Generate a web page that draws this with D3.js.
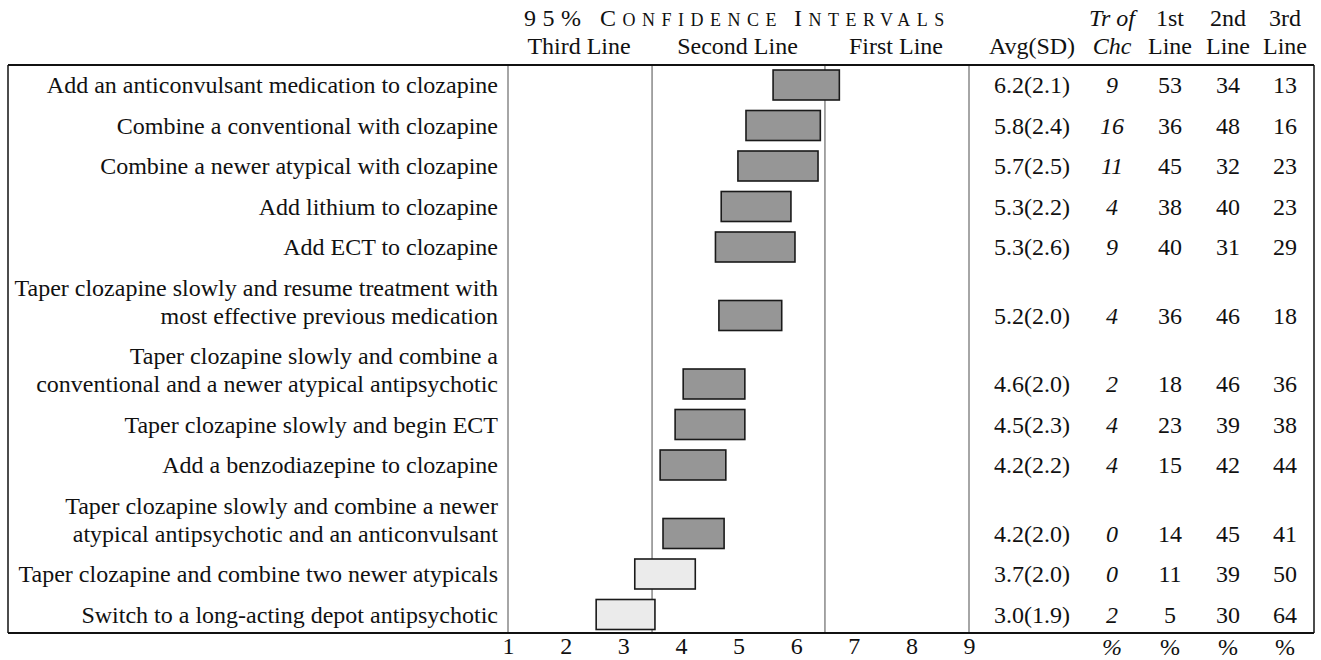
<!DOCTYPE html>
<html>
<head>
<meta charset="utf-8">
<script src="https://d3js.org/d3.v7.min.js"></script>
<style type="text/css">
  body { margin: 0; background: #fff; }
  svg text { font-family: "Liberation Serif", "Times New Roman", serif; font-size: 24px; fill: #111; }
  .grid { stroke: #888; stroke-width: 1.5; }
  .frame { stroke: #111; stroke-width: 2; }
  .it { font-style: italic; }
</style>
</head>
<body>

<svg width="1321" height="660"></svg>

<script>
// table rows, top to bottom
var labels = [
  ["Add an anticonvulsant medication to clozapine"],
  ["Combine a conventional with clozapine"],
  ["Combine a newer atypical with clozapine"],
  ["Add lithium to clozapine"],
  ["Add ECT to clozapine"],
  ["Taper clozapine slowly and resume treatment with", "most effective previous medication"],
  ["Taper clozapine slowly and combine a", "conventional and a newer atypical antipsychotic"],
  ["Taper clozapine slowly and begin ECT"],
  ["Add a benzodiazepine to clozapine"],
  ["Taper clozapine slowly and combine a newer", "atypical antipsychotic and an anticonvulsant"],
  ["Taper clozapine and combine two newer atypicals"],
  ["Switch to a long-acting depot antipsychotic"]
];
var avg   = [6.2, 5.8, 5.7, 5.3, 5.3, 5.2, 4.6, 4.5, 4.2, 4.2, 3.7, 3.0];
var sd    = [2.1, 2.4, 2.5, 2.2, 2.6, 2.0, 2.0, 2.3, 2.2, 2.0, 2.0, 1.9];
var ciLow = [5.60, 5.13, 4.99, 4.70, 4.60, 4.66, 4.04, 3.90, 3.64, 3.69, 3.20, 2.53];
var ciHigh= [6.75, 6.42, 6.38, 5.91, 5.98, 5.75, 5.11, 5.11, 4.78, 4.75, 4.25, 3.55];
var trChc = [9, 16, 11, 4, 9, 4, 2, 4, 4, 0, 0, 2];
var first = [53, 36, 45, 38, 40, 36, 18, 23, 15, 14, 11, 5];
var second= [34, 48, 32, 40, 31, 46, 46, 39, 42, 45, 39, 30];
var third = [13, 16, 23, 23, 29, 18, 36, 38, 44, 41, 50, 64];

var ticks = [1, 2, 3, 4, 5, 6, 7, 8, 9];
var zoneBreaks = [3.5, 6.5];
var zoneNames = ["Third Line", "Second Line", "First Line"];

var svg = d3.select("svg");

var box = {left: 8, right: 1314, top: 65, bottom: 633};
var x = d3.scaleLinear().domain([1, 9]).range([508, 969]);

// vertical placement: each row 40.5px, each extra text line 28px
var rowGap = 40.5, lineGap = 28, barH = 30;
var rowY = [];
var cur = 85 - rowGap;
labels.forEach(function(l) {
  cur += rowGap + (l.length - 1) * lineGap;
  rowY.push(cur);
});

// columns on the right
var cols = {avg: 1032, tr: 1112, c1: 1170, c2: 1228, c3: 1285};

// frame and grid
svg.append("line").attr("class", "frame")
  .attr("x1", box.left).attr("x2", box.right).attr("y1", box.top).attr("y2", box.top);
svg.append("line").attr("class", "frame")
  .attr("x1", box.left).attr("x2", box.right).attr("y1", box.bottom).attr("y2", box.bottom);
svg.append("line").attr("class", "frame").style("stroke-width", 1.5)
  .attr("x1", box.left).attr("x2", box.left).attr("y1", box.top).attr("y2", box.bottom);
svg.append("line").attr("class", "frame").style("stroke-width", 1.5)
  .attr("x1", box.right).attr("x2", box.right).attr("y1", box.top).attr("y2", box.bottom);

svg.selectAll(".grid")
  .data([1].concat(zoneBreaks, [9]))
  .enter().append("line")
  .attr("class", "grid")
  .attr("x1", function(d) { return x(d); })
  .attr("x2", function(d) { return x(d); })
  .attr("y1", box.top + 1)
  .attr("y2", box.bottom - 1);

// bars
svg.append("g").selectAll("rect")
  .data(avg)
  .enter().append("rect")
  .attr("x", function(d, i) { return x(ciLow[i]); })
  .attr("width", function(d, i) { return x(ciHigh[i]) - x(ciLow[i]); })
  .attr("y", function(d, i) { return rowY[i] - barH / 2; })
  .attr("height", barH)
  .attr("fill", function(d, i) { return ciLow[i] < zoneBreaks[0] ? "#ebebeb" : "#969696"; })
  .attr("stroke", "#1a1a1a")
  .attr("stroke-width", 1.6);

// row labels
var lab = svg.append("g").selectAll("text")
  .data(labels)
  .enter().append("text")
  .attr("text-anchor", "end")
  .attr("x", 498);
lab.selectAll("tspan")
  .data(function(d, i) { return d.map(function(t, j) { return {t: t, y: rowY[i] - (d.length - 1 - j) * lineGap}; }); })
  .enter().append("tspan")
  .attr("x", 498)
  .attr("y", function(d) { return d.y; })
  .attr("dy", "0.35em")
  .text(function(d) { return d.t; });

// table values
function column(vals, cx, cls) {
  svg.append("g").selectAll("text")
    .data(vals)
    .enter().append("text")
    .attr("class", cls || null)
    .attr("text-anchor", "middle")
    .attr("x", cx)
    .attr("y", function(d, i) { return rowY[i]; })
    .attr("dy", "0.35em")
    .text(function(d) { return d; });
}
column(avg.map(function(d, i) { return d.toFixed(1) + "(" + sd[i].toFixed(1) + ")"; }), cols.avg);
column(trChc, cols.tr, "it");
column(first, cols.c1);
column(second, cols.c2);
column(third, cols.c3);

// bottom axis
var axis = svg.append("g")
  .attr("transform", "translate(0," + (box.bottom + 2) + ")")
  .call(d3.axisBottom(x).tickValues(ticks).tickSize(0).tickPadding(0).tickFormat(d3.format("d")));
axis.select(".domain").remove();
axis.selectAll("text")
  .style("font-family", "Liberation Serif, serif")
  .style("font-size", "24px")
  .attr("fill", "#111")
  .attr("dy", "0.8em");

[cols.tr, cols.c1, cols.c2, cols.c3].forEach(function(cx, i) {
  svg.append("text")
    .attr("class", i === 0 ? "it" : null)
    .attr("text-anchor", "middle")
    .attr("x", cx).attr("y", 655)
    .text("%");
});

// header
var title = svg.append("text")
  .attr("x", x(1) + 16).attr("y", 26)
  .style("letter-spacing", "6.5px");
[["95% ", 24], ["C", 24], ["ONFIDENCE ", 18], ["I", 24], ["NTERVALS", 18]].forEach(function(p) {
  title.append("tspan").style("font-size", p[1] + "px").text(p[0]);
});

var bounds = [1].concat(zoneBreaks, [9]);
svg.selectAll(".zone")
  .data(zoneNames)
  .enter().append("text")
  .attr("class", "zone")
  .attr("text-anchor", "middle")
  .attr("x", function(d, i) { return x((bounds[i] + bounds[i + 1]) / 2) - 1; })
  .attr("y", 54)
  .text(function(d) { return d; });

var heads = [
  [cols.avg, "", "Avg(SD)", false],
  [cols.tr, "Tr of", "Chc", true],
  [cols.c1, "1st", "Line", false],
  [cols.c2, "2nd", "Line", false],
  [cols.c3, "3rd", "Line", false]
];
heads.forEach(function(h) {
  svg.append("text").attr("class", h[3] ? "it" : null)
    .attr("text-anchor", "middle").attr("x", h[0]).attr("y", 26).text(h[1]);
  svg.append("text").attr("class", h[3] ? "it" : null)
    .attr("text-anchor", "middle").attr("x", h[0]).attr("y", 54).text(h[2]);
});
</script>
</body>
</html>
